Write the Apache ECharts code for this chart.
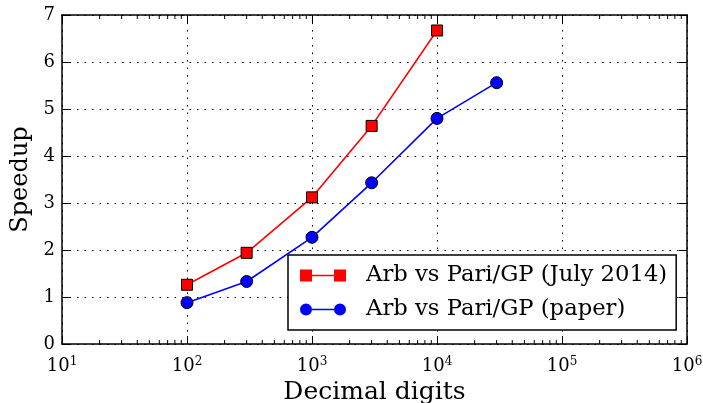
<!DOCTYPE html>
<html>
<head>
<meta charset="utf-8">
<title>Arb vs Pari/GP speedup</title>
<script src="https://cdn.jsdelivr.net/npm/echarts@6/dist/echarts.min.js"></script>
</head>
<body style="margin:0">
<div id="main" style="width:703px;height:403px"></div>
<script type="text/javascript">
    // decimal digits (x) and speedup (y)
    var digitsJuly = [100, 300, 1000, 3000, 10000];
    var speedupJuly = [1.26, 1.94, 3.12, 4.64, 6.67];
    var digitsPaper = [100, 300, 1000, 3000, 10000, 30000];
    var speedupPaper = [0.88, 1.33, 2.27, 3.43, 4.80, 5.56];
    var seriesNames = ['Arb vs Pari/GP (July 2014)', 'Arb vs Pari/GP (paper)'];
    var xMin = 10, xMax = 1e6;

    // minor ticks at 2..9 of every decade (log axis can't do them itself)
    var minorTicks = [];
    for (var d = xMin; d < xMax; d *= 10) {
        for (var k = 2; k < 10; k++) minorTicks.push([d * k, 0]);
    }

    function pairs(xs, ys) {
        return xs.map(function (x, i) { return [x, ys[i]]; });
    }

    var font = 'DejaVu Serif';
    var spine = { show: true, onZero: false, lineStyle: { color: '#000', width: 1.5 } };
    var dotted = { show: true, lineStyle: { color: '#000', width: 1, type: [1.6, 5.9] } };
    var tick = { show: true, inside: true, length: 8, lineStyle: { color: '#000', width: 1 } };

    var myChart = echarts.init(document.getElementById('main'));
    var option = {
        animation: false,
        grid: { left: 62, right: 16, top: 15, bottom: 59, containLabel: false, outerBoundsMode: 'none' },
        xAxis: [{
            type: 'log', logBase: 10, min: xMin, max: xMax,
            position: 'bottom',
            name: 'Decimal digits', nameLocation: 'middle', nameGap: 29,
            nameTextStyle: { fontFamily: font, fontSize: 25, color: '#000' },
            axisLine: spine, axisTick: tick, splitLine: dotted,
            axisLabel: {
                margin: 12,
                formatter: function (v) {
                    return '{b|10}{s|' + Math.round(Math.log10(v)) + '}';
                },
                rich: {
                    b: { fontFamily: font, fontSize: 18, color: '#000' },
                    s: { fontFamily: font, fontSize: 12, color: '#000', padding: [0, 0, 9, 0] }
                }
            }
        }, {
            type: 'log', logBase: 10, min: xMin, max: xMax,
            position: 'top',
            axisLine: spine, axisTick: tick, axisLabel: { show: false }, splitLine: { show: false }
        }],
        yAxis: [{
            type: 'value', min: 0, max: 7, interval: 1,
            position: 'left',
            name: 'Speedup', nameLocation: 'middle', nameGap: 26, nameRotate: 90,
            nameTextStyle: { fontFamily: font, fontSize: 24, color: '#000' },
            axisLine: spine, axisTick: tick, splitLine: dotted,
            axisLabel: { margin: 7, fontFamily: font, fontSize: 18, color: '#000' }
        }, {
            type: 'value', min: 0, max: 7, interval: 1,
            position: 'right',
            axisLine: spine, axisTick: tick, axisLabel: { show: false }, splitLine: { show: false }
        }],
        legend: {
            data: [{
                name: seriesNames[0],
                icon: 'path://M0,0H12V12H0Z M12,5.25H34V6.75H12Z M34,0H46V12H34Z'
            }, {
                name: seriesNames[1],
                icon: 'path://M0,6A6,6,0,1,1,12,6A6,6,0,1,1,0,6Z M12,5.25H34V6.75H12Z M34,6A6,6,0,1,1,46,6A6,6,0,1,1,34,6Z'
            }],
            orient: 'vertical',
            left: 288, top: 255,
            padding: [9, 9, 9, 12],
            itemWidth: 46, itemHeight: 12, itemGap: 11,
            itemStyle: { borderWidth: 0 },
            backgroundColor: '#fff', borderColor: '#000', borderWidth: 1.5, borderRadius: 0,
            formatter: function (name) { return '{t|' + name + '}'; },
            textStyle: {
                rich: {
                    t: { fontFamily: font, fontSize: 22.7, color: '#000', lineHeight: 24, padding: [0, 0, 0, 15] }
                }
            }
        },
        series: [{
            name: seriesNames[0],
            type: 'line',
            data: pairs(digitsJuly, speedupJuly),
            symbol: 'rect', symbolSize: 11,
            itemStyle: { color: '#ff0000', borderColor: '#000', borderWidth: 1 },
            lineStyle: { color: '#ff0000', width: 1.6 },
            z: 3
        }, {
            name: seriesNames[1],
            type: 'line',
            data: pairs(digitsPaper, speedupPaper),
            symbol: 'circle', symbolSize: 12,
            itemStyle: { color: '#0000ff', borderColor: '#000', borderWidth: 1 },
            lineStyle: { color: '#0000ff', width: 1.6 },
            z: 3
        }, {
            // minor ticks on the bottom and top spines
            type: 'custom',
            silent: true,
            clip: false,
            data: minorTicks,
            renderItem: function (params, api) {
                var cs = params.coordSys;
                var x = api.coord([api.value(0), 1])[0];
                var b = cs.y + cs.height, t = cs.y;
                var st = { stroke: '#000', lineWidth: 1 };
                return {
                    type: 'group',
                    children: [
                        { type: 'line', shape: { x1: x, y1: b, x2: x, y2: b - 4 }, style: st },
                        { type: 'line', shape: { x1: x, y1: t, x2: x, y2: t + 4 }, style: st }
                    ]
                };
            }
        }]
    };
    myChart.setOption(option);
</script>
</body>
</html>
